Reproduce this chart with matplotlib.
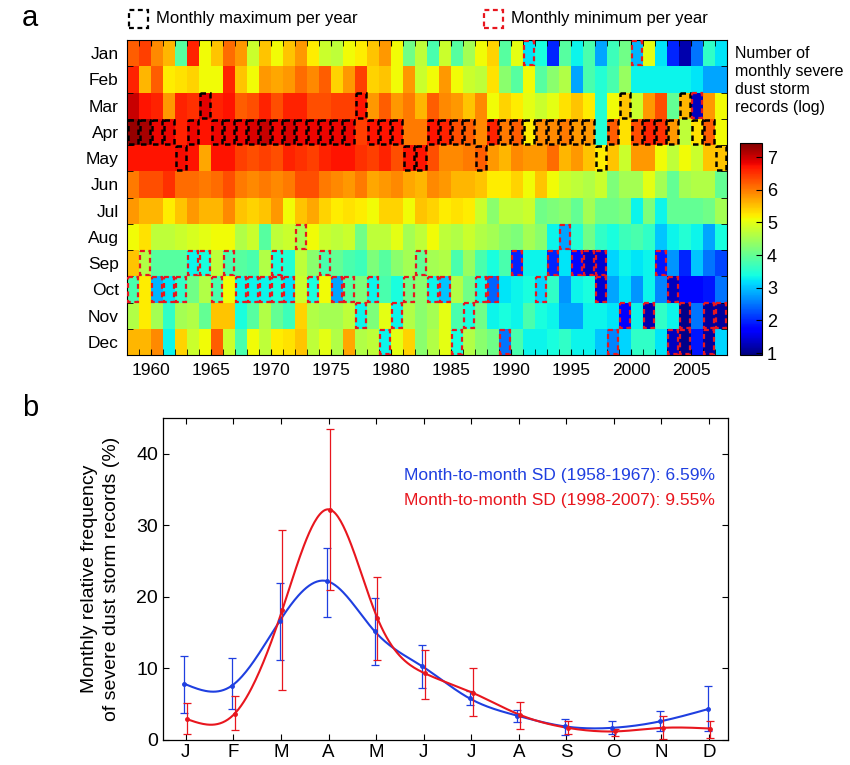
import numpy as np
import matplotlib
matplotlib.use("Agg")
import matplotlib.pyplot as plt
from matplotlib.patches import Rectangle

plt.rcParams['font.family'] = ['Liberation Sans', 'DejaVu Sans']

# ---- panel a data: log number of monthly severe dust storm records ----
years = list(range(1958, 2008))
month_names = ["Jan", "Feb", "Mar", "Apr", "May", "Jun",
               "Jul", "Aug", "Sep", "Oct", "Nov", "Dec"]

jan = [6.2, 6.4, 5.9, 5.6, 3.9, 6.6, 5.1, 5.5, 6.1, 5.8, 4.8, 5.5, 5.1, 5.5, 5.8, 5.2,
       4.8, 4.7, 5.1, 5.2, 5.5, 5.8, 5.1, 4.1, 4.7, 3.8, 4.8, 3.9, 4.5, 5.1, 5.4, 3.9, 5.0,
       3.2, 3.4, 2.0, 3.9, 3.3, 3.8, 2.8, 3.7, 4.1, 2.9, 5.0, 3.2, 2.0, 1.2, 2.5, 3.6, 3.2]
feb = [6.6, 5.6, 6.2, 5.2, 5.3, 5.4, 5.1, 5.1, 6.6, 5.5, 5.1, 5.8, 5.7, 5.8, 6.1, 5.9,
       6.2, 5.4, 5.8, 6.4, 5.4, 5.5, 5.1, 5.8, 4.8, 5.1, 5.8, 5.1, 4.8, 4.7, 5.3, 4.3, 3.9,
       5.1, 3.9, 4.3, 4.6, 2.8, 3.8, 3.5, 3.8, 4.4, 3.3, 3.3, 3.3, 3.3, 3.3, 3.2, 2.8, 2.8]
mar = [7.0, 6.7, 6.6, 5.8, 6.6, 6.5, 6.85, 6.6, 6.7, 6.2, 6.3, 6.6, 6.3, 6.6, 6.6, 6.3,
       6.3, 6.4, 6.4, 6.7, 5.8, 6.2, 5.8, 6.0, 5.6, 6.2, 5.9, 5.8, 5.5, 5.9, 5.1, 5.4, 5.2,
       5.0, 4.8, 5.0, 5.3, 5.5, 5.2, 3.5, 5.1, 5.5, 4.8, 5.8, 6.3, 4.0, 5.6, 1.3, 5.8, 5.1]
apr = [7.3, 7.2, 6.8, 6.8, 6.6, 6.8, 6.7, 6.8, 6.8, 6.8, 6.9, 7.0, 6.8, 6.9, 6.8, 6.8,
       6.8, 6.8, 6.8, 6.4, 6.7, 6.7, 6.7, 6.0, 6.0, 6.7, 6.6, 6.3, 6.2, 5.9, 6.6, 6.0, 6.2,
       5.2, 5.9, 5.9, 6.0, 5.8, 5.8, 3.5, 6.2, 5.3, 6.3, 6.6, 6.5, 5.8, 4.7, 5.3, 6.2, 5.1]
may = [6.7, 6.7, 6.7, 6.7, 6.75, 6.7, 5.7, 6.7, 6.7, 6.4, 6.3, 6.4, 6.3, 6.6, 6.5, 6.4,
       6.6, 6.7, 6.7, 6.5, 6.4, 6.6, 6.3, 6.7, 6.7, 6.3, 5.9, 5.9, 6.0, 6.2, 5.8, 5.6, 5.9,
       5.8, 5.8, 6.1, 5.6, 5.8, 5.5, 5.2, 5.5, 4.8, 5.8, 5.8, 5.1, 4.7, 5.1, 4.8, 5.5, 5.5]
jun = [6.0, 6.3, 6.3, 6.5, 6.1, 6.1, 6.0, 6.1, 6.3, 6.0, 5.9, 6.0, 5.9, 6.0, 6.3, 6.3,
       6.0, 5.9, 5.8, 6.0, 5.7, 5.8, 5.9, 5.7, 5.6, 5.9, 5.8, 5.6, 5.6, 5.5, 5.2, 5.2, 5.4,
       5.1, 5.5, 5.1, 4.8, 4.7, 4.6, 4.8, 4.2, 4.5, 4.5, 5.0, 4.5, 4.0, 4.5, 4.6, 4.6, 4.0]
jul = [5.8, 5.6, 5.6, 5.2, 5.5, 5.8, 5.6, 5.6, 5.9, 5.5, 5.4, 5.5, 5.8, 5.1, 5.5, 5.7,
       5.4, 5.2, 5.3, 5.2, 5.1, 5.4, 5.4, 5.1, 5.5, 5.4, 5.2, 5.3, 5.2, 4.8, 4.3, 4.7, 4.7,
       4.8, 4.1, 4.2, 4.3, 4.0, 4.5, 4.1, 4.1, 4.2, 3.3, 4.2, 3.3, 4.0, 4.0, 4.0, 4.1, 4.5]
aug = [5.1, 5.3, 4.7, 4.7, 4.8, 4.9, 5.0, 5.1, 5.1, 4.6, 4.8, 3.9, 4.7, 4.8, 4.5, 5.1,
       4.8, 4.7, 4.8, 4.1, 4.7, 4.7, 5.0, 4.5, 4.7, 5.1, 4.7, 4.6, 4.8, 4.6, 4.5, 4.3, 4.2,
       4.5, 4.3, 3.3, 2.8, 3.5, 4.1, 3.6, 3.4, 3.7, 3.8, 3.6, 3.0, 3.3, 3.5, 3.3, 2.8, 3.4]
sep = [5.5, 4.6, 3.9, 3.9, 3.9, 3.3, 3.4, 4.7, 3.8, 3.9, 3.8, 4.6, 3.4, 3.5, 4.7, 4.3,
       3.8, 4.0, 3.8, 3.7, 4.2, 3.9, 4.3, 4.5, 4.0, 4.5, 4.6, 3.8, 4.4, 3.8, 3.4, 3.8, 2.0,
       3.3, 3.3, 2.0, 3.2, 1.8, 1.3, 1.4, 3.1, 3.3, 3.2, 3.3, 1.9, 2.7, 2.0, 3.0, 2.5, 2.2]
octo = [3.8, 5.2, 2.9, 3.2, 3.6, 4.1, 4.6, 3.8, 5.1, 3.3, 3.3, 3.3, 3.4, 3.2, 4.8, 3.4,
        5.1, 2.8, 3.9, 4.2, 3.3, 3.8, 3.4, 4.1, 4.3, 3.3, 3.0, 4.6, 4.1, 3.3, 2.4, 3.2, 3.3,
        3.4, 3.1, 3.6, 2.7, 3.3, 3.4, 1.4, 2.8, 3.2, 2.7, 3.3, 2.6, 1.3, 1.8, 1.8, 1.9, 2.5]
nov = [4.6, 5.2, 4.5, 3.6, 4.5, 4.6, 4.0, 5.5, 5.5, 3.4, 3.9, 4.6, 4.0, 3.7, 5.4, 4.6,
       4.5, 4.5, 4.7, 3.3, 4.2, 5.0, 3.3, 4.6, 4.3, 4.5, 5.0, 3.8, 3.4, 4.1, 3.3, 3.4, 3.3,
       3.8, 3.4, 3.3, 2.8, 2.8, 3.3, 3.3, 3.2, 1.7, 3.3, 1.2, 3.6, 3.3, 1.0, 2.5, 1.1, 1.1]
dec = [5.6, 5.6, 5.9, 3.3, 5.4, 4.8, 5.1, 6.2, 4.8, 3.8, 5.1, 4.7, 5.2, 5.3, 5.5, 4.7,
       5.0, 4.6, 5.7, 4.6, 4.7, 3.3, 5.0, 5.4, 4.3, 4.6, 5.0, 3.4, 4.6, 4.3, 4.1, 2.5, 3.8,
       3.3, 3.3, 3.4, 3.6, 3.3, 3.3, 3.0, 2.6, 3.1, 3.6, 3.6, 3.2, 1.3, 1.0, 1.9, 1.1, 3.1]

# month (1-12) of the yearly maximum, one per year
max_month = [4, 4, 4, 4, 5, 4, 3] + [4] * 12 + [3, 4, 4, 4, 5, 5, 4, 4, 4, 4, 5] + \
            [4] * 9 + [5, 4, 3, 4, 4, 4, 4, 3, 4, 4, 5]
# (year, month) cells marked as yearly minimum
min_cells = [(1958, 10), (1959, 9), (1960, 10), (1961, 10), (1962, 10), (1963, 9),
             (1964, 9), (1965, 10), (1966, 9), (1967, 10), (1968, 10), (1969, 10),
             (1970, 9), (1970, 10), (1971, 10), (1972, 8), (1973, 10), (1974, 9),
             (1975, 10), (1976, 10), (1977, 11), (1978, 10), (1979, 12), (1980, 11),
             (1981, 10), (1982, 9), (1983, 10), (1984, 10), (1985, 12), (1986, 11),
             (1987, 10), (1988, 10), (1989, 12), (1990, 9), (1991, 1), (1992, 10),
             (1993, 9), (1994, 8), (1995, 9), (1996, 9), (1997, 9), (1997, 10),
             (1998, 12), (1999, 11), (2000, 1), (2001, 11), (2002, 9), (2003, 10),
             (2003, 12), (2004, 11), (2004, 12), (2005, 3), (2006, 11), (2006, 12),
             (2007, 11)]

# ---- panel b data: monthly relative frequency (%) ----
month_letters = ["J", "F", "M", "A", "M", "J", "J", "A", "S", "O", "N", "D"]
early_mean = [7.85, 7.6, 16.6, 22.2, 15.2, 10.3, 5.8, 3.4, 1.9, 1.7, 2.6, 4.3]
early_low = [3.8, 4.3, 11.2, 17.2, 10.5, 7.2, 4.9, 2.5, 0.7, 0.8, 1.2, 1.3]
early_high = [11.7, 11.4, 22.0, 26.9, 19.9, 13.3, 6.9, 4.2, 3.0, 2.6, 4.0, 7.6]
late_mean = [2.9, 3.7, 18.2, 32.2, 17.0, 9.3, 6.6, 3.5, 1.7, 1.2, 1.7, 1.6]
late_low = [0.8, 1.4, 7.0, 20.9, 11.2, 5.7, 3.4, 1.6, 0.8, 0.6, 0.1, 0.3]
late_high = [5.2, 6.1, 29.3, 43.5, 22.8, 12.6, 10.0, 5.3, 2.6, 1.6, 3.4, 2.7]

BLUE = "#1f3fe0"
RED = "#e8161e"


def spline(x, y, n=400):
    # natural cubic spline drawn through the points
    x = np.asarray(x, float)
    y = np.asarray(y, float)
    k = len(x)
    h = np.diff(x)
    A = np.zeros((k, k))
    b = np.zeros(k)
    A[0, 0] = A[-1, -1] = 1.0
    for i in range(1, k - 1):
        A[i, i - 1] = h[i - 1]
        A[i, i] = 2 * (h[i - 1] + h[i])
        A[i, i + 1] = h[i]
        b[i] = 6 * ((y[i + 1] - y[i]) / h[i] - (y[i] - y[i - 1]) / h[i - 1])
    M = np.linalg.solve(A, b)
    xs = np.linspace(x[0], x[-1], n)
    idx = np.clip(np.searchsorted(x, xs) - 1, 0, k - 2)
    x0, x1 = x[idx], x[idx + 1]
    hh = x1 - x0
    ys = (M[idx] * (x1 - xs) ** 3 + M[idx + 1] * (xs - x0) ** 3) / (6 * hh) \
        + (y[idx] - M[idx] * hh ** 2 / 6) * (x1 - xs) / hh \
        + (y[idx + 1] - M[idx + 1] * hh ** 2 / 6) * (xs - x0) / hh
    return xs, ys


W, H = 850, 765
fig = plt.figure(figsize=(W / 100, H / 100), dpi=100)


def fbox(l, t, r, b):
    return [l / W, 1 - b / H, (r - l) / W, (b - t) / H]


# ---------------- panel a ----------------
ax = fig.add_axes(fbox(127, 40, 727, 355))
Z = np.array([jan, feb, mar, apr, may, jun, jul, aug, sep, octo, nov, dec])
xe = np.arange(years[0], years[-1] + 2)
ye = np.arange(0.5, 13.5)
vmin, vmax = 0.94, 7.43
mesh = ax.pcolormesh(xe, ye, Z, cmap="jet", vmin=vmin, vmax=vmax)
ax.set_xlim(xe[0], xe[-1])
ax.set_ylim(12.5, 0.5)

dash = (0, (2.2, 1.6))
for yr, m in zip(years, max_month):
    ax.add_patch(Rectangle((yr + 0.05, m - 0.47), 0.9, 0.94, fill=False,
                           edgecolor="black", lw=1.8, linestyle=dash, zorder=3))
for yr, m in min_cells:
    ax.add_patch(Rectangle((yr + 0.05, m - 0.47), 0.9, 0.94, fill=False,
                           edgecolor=RED, lw=1.6, linestyle=dash, zorder=3))

ax.set_yticks(range(1, 13))
ax.set_yticklabels(month_names, fontsize=12.5)
ax.set_yticks(np.arange(1.5, 12.5), minor=True)
ax.tick_params(axis="y", which="major", length=0, pad=6)
ax.tick_params(axis="y", which="minor", direction="in", length=4, left=True, right=True)
ax.set_xticks(range(1960, 2006, 5))
ax.set_xticklabels([str(v) for v in range(1960, 2006, 5)], fontsize=12.5)
ax.set_xticks(range(years[0], years[-1] + 2), minor=True)
ax.tick_params(axis="x", which="both", direction="in", length=4, top=True, bottom=True)
ax.tick_params(axis="x", which="major", pad=6)
for s in ax.spines.values():
    s.set_linewidth(0.8)

cax = fig.add_axes(fbox(740, 143, 762, 355))
cb = fig.colorbar(mesh, cax=cax, ticks=range(1, 8))
cb.outline.set_linewidth(0.8)
cax.tick_params(labelsize=13, direction="in", length=4, width=0.8)
fig.text(735 / W, 1 - 46 / H, "Number of\nmonthly severe\ndust storm\nrecords (log)",
         ha="left", va="top", fontsize=11.5, linespacing=1.25)

# legend on top
fig.text(22 / W, 1 - 18 / H, "a", fontsize=21, va="center", ha="left")
fig.patches.append(Rectangle((129 / W, 1 - 28 / H), 19 / W, 18 / H, fill=False,
                             edgecolor="black", lw=1.6, linestyle=dash,
                             transform=fig.transFigure, figure=fig))
fig.text(156 / W, 1 - 19 / H, "Monthly maximum per year", fontsize=12, va="center")
fig.patches.append(Rectangle((484 / W, 1 - 28 / H), 19 / W, 18 / H, fill=False,
                             edgecolor=RED, lw=1.6, linestyle=dash,
                             transform=fig.transFigure, figure=fig))
fig.text(511 / W, 1 - 19 / H, "Monthly minimum per year", fontsize=12, va="center")

# ---------------- panel b ----------------
fig.text(22 / W, 1 - 408 / H, "b", fontsize=21, va="center", ha="left")
bx = fig.add_axes(fbox(163, 418, 728, 740))
mx = np.arange(1, 13)
for means, lo, hi, col, off in [(early_mean, early_low, early_high, BLUE, -0.03),
                                (late_mean, late_low, late_high, RED, 0.03)]:
    xp = mx + off
    xs, ys = spline(xp, means)
    bx.plot(xs, ys, color=col, lw=1.5)
    m = np.array(means)
    bx.errorbar(xp, m, yerr=[m - np.array(lo), np.array(hi) - m], fmt="o", ms=2.5,
                color=col, ecolor=col, elinewidth=0.9, capsize=3, capthick=0.9)

bx.set_xlim(0.52, 12.4)
bx.set_ylim(0, 45)
bx.set_xticks(mx)
bx.set_xticklabels(month_letters, fontsize=13.5)
bx.set_yticks([0, 10, 20, 30, 40])
bx.tick_params(axis="y", labelsize=14)
bx.tick_params(direction="in", length=4, top=True, right=True, width=0.8)
bx.tick_params(axis="x", pad=3)
for s in bx.spines.values():
    s.set_linewidth(0.9)
bx.set_ylabel("Monthly relative frequency\nof severe dust storm records (%)",
              fontsize=14, labelpad=12, linespacing=1.35)
bx.text(0.977, 37.0, "Month-to-month SD (1958-1967): 6.59%", color=BLUE,
        transform=bx.get_yaxis_transform(), ha="right", va="center", fontsize=12.5)
bx.text(0.977, 33.5, "Month-to-month SD (1998-2007): 9.55%", color=RED,
        transform=bx.get_yaxis_transform(), ha="right", va="center", fontsize=12.5)

fig.savefig("out.png", dpi=100)
